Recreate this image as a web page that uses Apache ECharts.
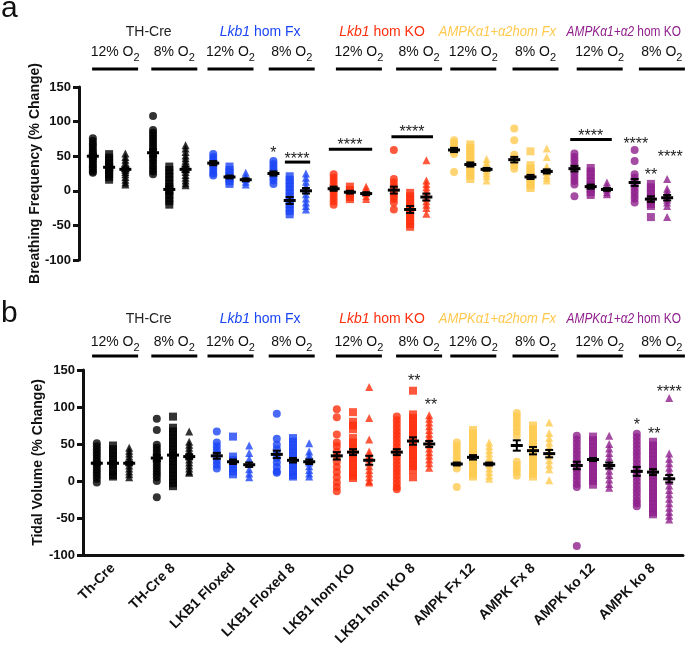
<!DOCTYPE html>
<html>
<head>
<meta charset="utf-8">
<script src="https://cdn.jsdelivr.net/npm/echarts@6/dist/echarts.min.js"></script>
<style>
html, body { margin: 0; padding: 0; background: #fff; }
#chart { width: 685px; height: 648px; }
</style>
</head>
<body>
<div id="chart"></div>
<script>
const FONT = '"Liberation Sans", Arial, Helvetica, sans-serif';

const categories = ['Th-Cre', 'TH-Cre 8', 'LKB1 Floxed', 'LKB1 Floxed 8', 'LKB1 hom KO',
    'LKB1 hom KO 8', 'AMPK Fx 12', 'AMPK Fx 8', 'AMPK ko 12', 'AMPK ko 8'];
const groupColors = ['#000000', '#000000', '#1a45f5', '#1a45f5', '#ff2e0d', '#ff2e0d',
    '#ffc94f', '#ffc94f', '#8f1f8c', '#8f1f8c'];
const yTicks = [-100, -50, 0, 50, 100, 150];

// header texts
const groupLabels = [
    [['TH-Cre', false]],
    [['Lkb1', true], [' hom Fx', false]],
    [['Lkb1', true], [' hom KO', false]],
    [['AMPK\u03b11+\u03b12hom Fx', true]],
    [['AMPK\u03b11+\u03b12', true], [' hom KO', false]]
];
const groupLabelColors = ['#222222', '#1a45f5', '#ff2e0d', '#ffc94f', '#8f1f8c'];
const oxygenLabels = ['12% O', '8% O', '12% O', '8% O', '12% O', '8% O', '12% O', '8% O', '12% O', '8% O'];

// a: breathing frequency (% change), one list per group for each symbol
const bfCircle = [
    [76, 72, 68, 65, 61, 58, 55, 52, 49, 46, 43, 40, 37, 34, 31, 28, 26],
    [108, 88, 84, 80, 76, 72, 68, 64, 60, 56, 52, 48, 44, 40, 36, 32, 28, 24],
    [53, 49, 45, 41, 37, 33, 29, 25, 22],
    [43, 39, 35, 31, 27, 23, 19, 15, 10],
    [24, 19, 14, 9, 4, 0, -5, -10, -15, -20],
    [59, 17, 12, 7, 2, -3, -8, -12, -17, -27],
    [73, 69, 65, 61, 57, 53, 27],
    [90, 73, 52, 47, 42, 37, 32],
    [54, 49, 44, 39, 34, 29, 24, 19, 14, 9, -8],
    [59, 43, 24, 19, 14, 9, 4, -1, -6, -11, -17]
];
const bfSquare = [
    [53, 48, 44, 40, 36, 33, 30, 27, 24, 20, 16],
    [35, 30, 25, 20, 15, 10, 5, 0, -5, -10, -15, -20],
    [35, 30, 26, 22, 18, 14, 10],
    [21, 16, 11, 6, 1, -4, -9, -14, -19, -24, -29, -34],
    [6, 1, -4, -9, -12],
    [-3, -8, -13, -18, -23, -28, -33, -38, -43, -48, -52],
    [67, 62, 57, 52, 47, 42, 37, 32, 27, 22, 17],
    [57, 37, 32, 27, 22, 17, 12, 8, 4],
    [33, 28, 23, 18, 13, 8, 3, -2, -6],
    [10, 5, 0, -5, -10, -15, -19, -22, -38]
];
const bfTriangle = [
    [54, 49, 45, 41, 37, 33, 30, 27, 24, 20, 16, 12, 9],
    [66, 61, 56, 51, 47, 43, 39, 35, 31, 27, 23, 19, 15, 11, 8],
    [26, 21, 17, 13, 9],
    [25, 19, 13, 7, 1, -5, -11, -17, -22, -27],
    [6, 2, -3, -8, -12],
    [44, 15, 10, 5, 0, -5, -10, -15, -20, -25, -33],
    [46, 41, 37, 33, 29, 25, 21, 15],
    [61, 49, 35, 31, 27, 23, 19, 15],
    [12, 7, 2, -2, -5],
    [17, 3, -1, -5, -9, -13, -17, -22, -38]
];
const bfMean = [[50, 34, 31], [55, 2, 31], [40, 20, 16], [25, -14, 0], [3, -2, -4],
    [1, -27, -9], [59, 38, 31], [45, 20, 28], [32, 6, 2], [12, -12, -10]];
const bfSem = [[3, 4, 3], [5, 5, 4], [3, 2, 2], [3, 5, 4], [3, 2, 2],
    [5, 5, 5], [3, 3, 2], [4, 3, 3], [4, 3, 2], [5, 4, 4]];
// [x, y, text] and [x1, x2, y], in group units / % change
const bfStars = [[2.73, 58, '*'], [3.12, 50, '****'], [4.0, 69, '****'], [5.03, 88, '****'],
    [8.0, 83, '****'], [8.75, 71, '****'], [9.0, 27, '**'], [9.32, 53, '****']];
const bfBars = [[2.92, 3.34, 41.5], [3.65, 4.37, 60], [4.69, 5.38, 78], [7.66, 8.35, 74]];

// b: tidal volume (% change)
const tvCircle = [
    [51, 47, 43, 39, 35, 31, 27, 23, 19, 15, 11, 7, 3, -2],
    [84, 69, 49, 45, 41, 37, 33, 29, 25, 21, 17, 13, 9, 5, 0, -22],
    [67, 52, 47, 42, 37, 32, 27, 22, 17],
    [91, 57, 49, 43, 37, 31, 25, 19, 13, 11],
    [97, 86, 63, 52, 47, 40, 33, 26, 19, 12, 5, -2, -8, -14],
    [87, 82, 77, 72, 67, 62, 57, 52, 47, 42, 37, 32, 27, 22, 17, 12, 7, 2, -3, -8, -11],
    [52, 47, 42, 37, 32, 27, 22, 17, -8],
    [92, 87, 82, 77, 72, 67, 61, 26, 21, 16, 12, 7],
    [61, 56, 51, 46, 41, 36, 31, 26, 21, 16, 11, 6, 1, -4, -8, -88],
    [64, 59, 54, 49, 44, 39, 34, 29, 24, 19, 14, 9, 4, -1, -6, -11, -16, -21, -26, -30, -34]
];
const tvSquare = [
    [48, 43, 38, 33, 28, 23, 18, 13, 8, 6],
    [87, 72, 67, 62, 57, 52, 47, 42, 37, 32, 27, 22, 17, 12, 7, 2, -3, -7],
    [60, 33, 28, 23, 18, 13, 9],
    [58, 53, 48, 43, 38, 33, 28, 23, 18, 13, 8, 6],
    [93, 80, 75, 70, 58, 52, 47, 42, 37, 32, 27, 22, 17, 12, 7, 4],
    [122, 90, 85, 80, 75, 70, 65, 60, 55, 50, 45, 40, 35, 30, 25, 20, 15, 5],
    [69, 64, 59, 54, 49, 44, 39, 34, 29, 24, 19, 14, 9, 6],
    [75, 70, 65, 60, 55, 50, 45, 40, 35, 30, 25, 20, 15, 10, 6],
    [60, 55, 50, 45, 40, 35, 30, 25, 20, 15, 10, 5, 0, -5],
    [53, 48, 43, 38, 33, 28, 23, 18, 13, 8, 3, -2, -7, -12, -17, -22, -27, -32, -37, -42, -45]
];
const tvTriangle = [
    [45, 41, 37, 33, 29, 25, 21, 17, 13, 9, 5],
    [67, 53, 49, 45, 41, 37, 33, 29, 25, 21, 17, 13, 11],
    [48, 38, 30, 23, 16, 10, 5],
    [51, 40, 35, 30, 25, 20, 15, 10, 6],
    [127, 85, 56, 40, 35, 30, 25, 20, 15, 10, 5, 0, -2],
    [89, 84, 79, 74, 69, 64, 59, 54, 49, 44, 39, 34, 29, 24, 18],
    [52, 47, 42, 37, 32, 27, 22, 17, 12, 7, 3],
    [79, 65, 58, 52, 46, 40, 34, 28, 22, 16, 1],
    [61, 50, 44, 38, 32, 26, 20, 14, 8, 2, -4, -9],
    [112, 37, 30, 24, 18, 12, 6, 0, -6, -12, -18, -24, -30, -36, -42, -47, -52]
];
const tvMean = [[24, 24, 24], [31, 35, 33], [34, 26, 22], [36, 28, 26], [34, 39, 28],
    [39, 54, 50], [23, 32, 23], [48, 41, 37], [21, 29, 21], [13, 12, 3]];
const tvSem = [[2, 2, 2], [4, 4, 3], [4, 3, 3], [5, 3, 3], [5, 4, 6],
    [4, 5, 4], [2, 3, 2], [7, 5, 5], [5, 2, 4], [6, 4, 5]];
const tvStars = [[5.02, 138, '**'], [5.3, 106, '**'], [8.73, 79, '*'], [9.02, 67, '**'], [9.27, 123, '****']];
const tvBars = [];

// layout tweaks for the header rows (px)
const headerNudge = [6, 5, 1, 2, 9, 9, 3, 5, 9, 11];
const groupNudge = [4, -1, -7, -7, -7];
const groupScale = [1, 1, 1, 0.93, 0.85];

const shapes = ['circle', 'rect', 'triangle'];
const colOffset = [-0.27, 0, 0.27];

function pointSeries(axis, lists, k) {
    const data = [];
    lists.forEach((vals, g) => {
        vals.forEach(v => data.push({ value: [g + colOffset[k], v], itemStyle: { color: groupColors[g] } }));
    });
    return {
        type: 'scatter', xAxisIndex: axis, yAxisIndex: axis, symbol: shapes[k], symbolSize: 8,
        data: data, z: 2, silent: true
    };
}

function meanSeries(axis, means, sems) {
    const data = [];
    means.forEach((m, g) => m.forEach((v, k) => data.push([g + colOffset[k], v, sems[g][k]])));
    return {
        type: 'custom', xAxisIndex: axis, yAxisIndex: axis, z: 5, silent: true, data: data,
        renderItem: function (params, api) {
            const x = api.value(0), m = api.value(1), s = api.value(2);
            const c = api.coord([x, m]);
            const hi = api.coord([x, m + s]);
            const lo = api.coord([x, m - s]);
            const st = { stroke: '#000', lineWidth: 2 };
            return {
                type: 'group', children: [
                    { type: 'line', shape: { x1: c[0] - 6, y1: c[1], x2: c[0] + 6, y2: c[1] }, style: { stroke: '#000', lineWidth: 3 } },
                    { type: 'line', shape: { x1: c[0], y1: hi[1], x2: c[0], y2: lo[1] }, style: st },
                    { type: 'line', shape: { x1: c[0] - 4, y1: hi[1], x2: c[0] + 4, y2: hi[1] }, style: st },
                    { type: 'line', shape: { x1: c[0] - 4, y1: lo[1], x2: c[0] + 4, y2: lo[1] }, style: st }
                ]
            };
        }
    };
}

function starSeries(axis, stars, bars) {
    return [{
        type: 'custom', xAxisIndex: axis, yAxisIndex: axis, z: 6, silent: true,
        data: stars.map(s => [s[0], s[1]]),
        renderItem: function (params, api) {
            const p = api.coord([api.value(0), api.value(1)]);
            return {
                type: 'text', x: p[0], y: p[1] + 3,
                style: { text: stars[params.dataIndex][2], fontSize: 16, fontFamily: FONT, fill: '#222', align: 'center', verticalAlign: 'middle' }
            };
        }
    }, {
        type: 'custom', xAxisIndex: axis, yAxisIndex: axis, z: 6, silent: true,
        data: bars,
        renderItem: function (params, api) {
            const a = api.coord([api.value(0), api.value(2)]);
            const b = api.coord([api.value(1), api.value(2)]);
            return { type: 'line', shape: { x1: a[0], y1: a[1], x2: b[0], y2: b[1] }, style: { stroke: '#000', lineWidth: 3 } };
        }
    }];
}

function yAxisCfg(grid, name, gap) {
    return {
        type: 'value', gridIndex: grid, min: yTicks[0], max: yTicks[yTicks.length - 1], interval: 50,
        name: name, nameLocation: 'middle', nameGap: gap, nameMoveOverlap: false,
        nameTextStyle: { fontSize: 14, fontWeight: 'bold', fontFamily: FONT, color: '#111' },
        axisLine: { show: true, onZero: false, lineStyle: { color: '#111', width: 3 } },
        axisTick: { show: true, length: 6, lineStyle: { color: '#111', width: 3 } },
        axisLabel: { fontSize: 13, fontWeight: 'bold', fontFamily: FONT, color: '#111', margin: 8 },
        splitLine: { show: false }
    };
}

const chart = echarts.init(document.getElementById('chart'), null, { renderer: 'canvas' });

const option = {
    animation: false,
    backgroundColor: '#fff',
    textStyle: { fontFamily: FONT },
    grid: [
        { left: 79, top: 87, width: 602, height: 173, outerBoundsMode: 'none' },
        { left: 83, top: 370, width: 600, height: 185, outerBoundsMode: 'none' }
    ],
    xAxis: [
        { type: 'value', gridIndex: 0, min: -0.5, max: 9.5, show: false },
        { type: 'value', gridIndex: 1, min: -0.5, max: 9.5, show: false, position: 'top' },
        {
            type: 'category', gridIndex: 1, position: 'bottom', data: categories,
            axisLine: { onZero: false, lineStyle: { color: '#111', width: 3 } },
            axisTick: { alignWithLabel: true, length: 6, lineStyle: { color: '#111', width: 3 } },
            axisLabel: { rotate: 45, interval: 0, fontSize: 14, fontWeight: 'bold', fontFamily: FONT, color: '#111', margin: 11 },
            splitLine: { show: false }
        }
    ],
    yAxis: [
        yAxisCfg(0, 'Breathing Frequency (% Change)', 37),
        yAxisCfg(1, 'Tidal Volume (% Change)', 38)
    ],
    series: [
        pointSeries(0, bfCircle, 0), pointSeries(0, bfSquare, 1), pointSeries(0, bfTriangle, 2),
        meanSeries(0, bfMean, bfSem),
        ...starSeries(0, bfStars, bfBars),
        pointSeries(1, tvCircle, 0), pointSeries(1, tvSquare, 1), pointSeries(1, tvTriangle, 2),
        meanSeries(1, tvMean, tvSem),
        ...starSeries(1, tvStars, tvBars)
    ]
};

chart.setOption(option);

// header rows above each panel
function buildHeaders() {
    const ctx = document.createElement('canvas').getContext('2d');
    const rows = [
        { letter: 'a', letterY: 9, groupY: 32.5, oxyY: 52, barY: 69 },
        { letter: 'b', letterY: 314, groupY: 319.5, oxyY: 342, barY: 356 }
    ];
    const barX = categories.map((c, g) => chart.convertToPixel({ xAxisIndex: 0 }, g) + headerNudge[g]);
    const els = [];
    rows.forEach(r => {
        els.push({
            type: 'text', x: 1, y: r.letterY,
            style: { text: r.letter, fontSize: 30, fontFamily: FONT, fill: '#111', align: 'left', verticalAlign: 'middle' }
        });
        groupLabels.forEach((parts, i) => {
            const color = groupLabelColors[i];
            const cx = (barX[2 * i] + barX[2 * i + 1]) / 2 + groupNudge[i];
            els.push({
                type: 'text', x: cx, y: r.groupY, scaleX: groupScale[i],
                style: {
                    text: parts.map(p => '{' + (p[1] ? 'i' : 'n') + '|' + p[0] + '}').join(''),
                    align: 'center', verticalAlign: 'middle', fill: color,
                    fontSize: 14, fontFamily: FONT,
                    rich: {
                        i: { fontSize: 14, fontFamily: FONT, fontStyle: 'italic', fill: color },
                        n: { fontSize: 14, fontFamily: FONT, fontStyle: 'normal', fill: color }
                    }
                }
            });
        });
        barX.forEach((x, g) => {
            ctx.font = '14px ' + FONT;
            const w1 = ctx.measureText(oxygenLabels[g]).width;
            ctx.font = '11px ' + FONT;
            const w2 = ctx.measureText('2').width;
            const left = x - (w1 + w2) / 2;
            els.push({
                type: 'text', x: left, y: r.oxyY,
                style: { text: oxygenLabels[g], fontSize: 14, fontFamily: FONT, fill: '#111', align: 'left', verticalAlign: 'middle' }
            });
            els.push({
                type: 'text', x: left + w1, y: r.oxyY + 5.7,
                style: { text: '2', fontSize: 11, fontFamily: FONT, fill: '#111', align: 'left', verticalAlign: 'middle' }
            });
            els.push({
                type: 'line', shape: { x1: x - 23, y1: r.barY, x2: x + 23, y2: r.barY },
                style: { stroke: '#000', lineWidth: 3 }
            });
        });
    });
    chart.setOption({ graphic: els });
}

buildHeaders();
</script>
</body>
</html>
